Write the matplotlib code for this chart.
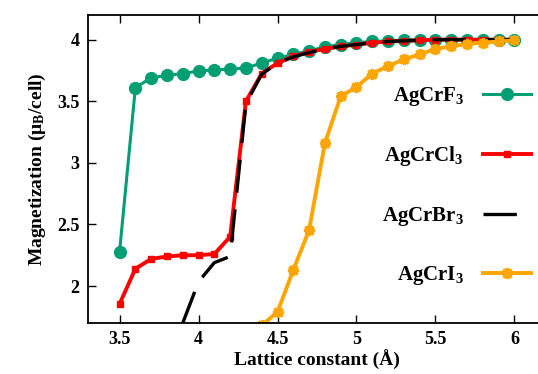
import matplotlib.pyplot as plt
import numpy as np

plt.rcParams['font.family'] = 'Liberation Serif'
plt.rcParams['font.weight'] = 'bold'
plt.rcParams['axes.labelweight'] = 'bold'
plt.rcParams['mathtext.fontset'] = 'custom'
plt.rcParams['mathtext.rm'] = 'Liberation Serif:bold'
plt.rcParams['mathtext.bf'] = 'Liberation Serif:bold'
plt.rcParams['mathtext.it'] = 'Liberation Serif:bold'

# data
a_f = [3.5, 3.6, 3.7, 3.8, 3.9, 4.0, 4.1, 4.2, 4.3, 4.4, 4.5, 4.6, 4.7, 4.8, 4.9,
       5.0, 5.1, 5.2, 5.3, 5.4, 5.5, 5.6, 5.7, 5.8, 5.9, 6.0]
m_f = [2.28, 3.61, 3.69, 3.71, 3.725, 3.745, 3.755, 3.76, 3.77, 3.81, 3.85, 3.88, 3.91,
       3.94, 3.96, 3.975, 3.985, 3.99, 3.995, 4.0, 4.0, 4.0, 4.0, 4.0, 4.0, 4.0]

a_cl = [3.5, 3.6, 3.7, 3.8, 3.9, 4.0, 4.1, 4.2, 4.3, 4.4, 4.5, 4.6, 4.7, 4.8, 4.9,
        5.0, 5.1, 5.2, 5.3, 5.4, 5.5, 5.6, 5.7, 5.8, 5.9, 6.0]
m_cl = [1.855, 2.14, 2.22, 2.24, 2.25, 2.25, 2.26, 2.40, 3.50, 3.725, 3.81, 3.865, 3.90,
        3.925, 3.945, 3.96, 3.975, 3.985, 3.99, 3.995, 4.0, 4.0, 4.0, 4.0, 4.0, 4.0]

a_br = [3.9, 4.0, 4.1, 4.2, 4.3, 4.4, 4.5, 4.6, 4.7, 4.8, 4.9, 5.0, 5.1, 5.2, 5.3,
        5.4, 5.5, 5.6, 5.7, 5.8, 5.9, 6.0]
m_br = [1.70, 2.035, 2.19, 2.24, 3.48, 3.72, 3.81, 3.86, 3.895, 3.925, 3.945, 3.96,
        3.975, 3.985, 3.99, 3.995, 4.0, 4.0, 4.0, 4.0, 4.0, 4.0]

a_i = [4.4, 4.5, 4.6, 4.7, 4.8, 4.9, 5.0, 5.1, 5.2, 5.3, 5.4, 5.5, 5.6, 5.7, 5.8, 5.9, 6.0]
m_i = [1.68, 1.79, 2.13, 2.455, 3.16, 3.54, 3.615, 3.725, 3.785, 3.84, 3.88, 3.925,
       3.946, 3.965, 3.976, 3.985, 3.995]

xt = [3.5, 4, 4.5, 5, 5.5, 6]
xt_lab = ['3.5', '4', '4.5', '5', '5.5', '6']
yt = [2, 2.5, 3, 3.5, 4]
yt_lab = ['2', '2.5', '3', '3.5', '4']

fig = plt.figure(figsize=(5.38, 3.74), dpi=100)
ax = fig.add_axes([88/538, 1-323/374, 458/538, 308/374])

ax.plot(a_f, m_f, color='#009E73', lw=2.2, marker='o', ms=8.5, label=r'AgCrF$_3$')
ax.plot(a_cl, m_cl, color='#FF0000', lw=2.8, marker='s', ms=4, label=r'AgCrCl$_3$')
ax.plot(a_br, m_br, color='black', lw=2.4, dashes=(10, 5), label=r'AgCrBr$_3$')
ax.plot(a_i, m_i, color='#FFA500', lw=2.8, marker=(8, 2, 0), ms=8, mew=2.2,
        label=r'AgCrI$_3$')

ax.set_xlim(3.3, 6.2)
ax.set_ylim(1.7, 4.2)
ax.set_xticks(xt)
ax.set_xticklabels(xt_lab, fontweight='bold', fontsize=13)
ax.set_yticks(yt)
ax.set_yticklabels(yt_lab, fontweight='bold', fontsize=13)
ax.tick_params(direction='in', top=True, right=True, length=6, width=1, pad=6)
for s in ax.spines.values():
    s.set_linewidth(1.3)

ax.set_xlabel('Lattice constant (Å)', fontsize=14, fontweight='bold', labelpad=1)
ax.set_ylabel(r'Magnetization (μ$_\mathrm{B}$/cell)', fontsize=14, fontweight='bold',
              labelpad=7)

leg = ax.legend(loc='upper right', bbox_to_anchor=(0.985, 0.8), frameon=False,
                markerfirst=False, prop={'size': 15, 'weight': 'bold'},
                handlelength=2.3, handletextpad=0.9,
                labelspacing=1.75, borderaxespad=0)
for t in leg.get_texts():
    t.set_ha('right')

fig.savefig('out.png', dpi=100)
